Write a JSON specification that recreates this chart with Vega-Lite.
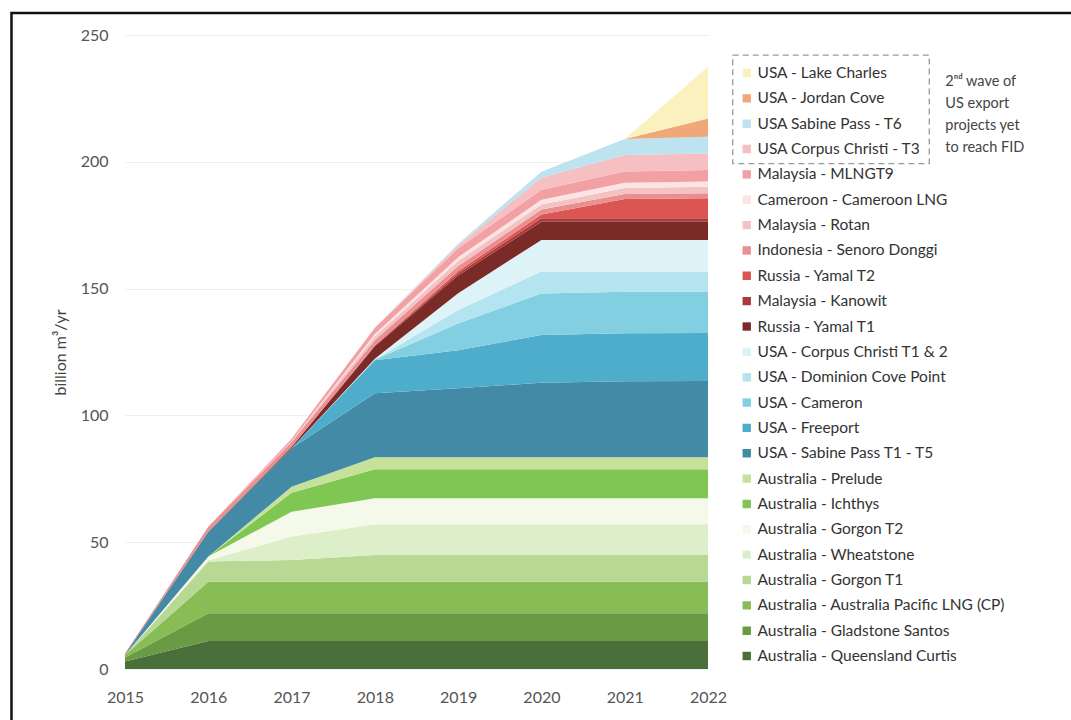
{
  "$schema": "https://vega.github.io/schema/vega-lite/v6.json",
  "width": 583,
  "height": 634,
  "autosize": {"type": "none"},
  "padding": {"left": 125, "top": 35, "right": 363, "bottom": 51},
  "background": "white",
  "config": {"view": {"stroke": null}, "font": "Lato"},
  "datasets": {
    "capacity": [
      {"year": 2015, "Australia - Queensland Curtis": 3, "Australia - Gladstone Santos": 1.5, "Australia - Australia Pacific LNG (CP)": 1, "Australia - Gorgon T1": 0, "Australia - Wheatstone": 0, "Australia - Gorgon T2": 0, "Australia - Ichthys": 0, "Australia - Prelude": 0, "USA - Sabine Pass T1 - T5": 0.3, "USA - Freeport": 0, "USA - Cameron": 0, "USA - Dominion Cove Point": 0, "USA - Corpus Christi T1 & 2": 0, "Russia - Yamal T1": 0, "Malaysia - Kanowit": 0, "Russia - Yamal T2": 0, "Indonesia - Senoro Donggi": 0.3, "Malaysia - Rotan": 0, "Cameroon - Cameroon LNG": 0, "Malaysia - MLNGT9": 0, "USA Corpus Christi - T3": 0, "USA Sabine Pass - T6": 0, "USA - Jordan Cove": 0, "USA - Lake Charles": 0},
      {"year": 2016, "Australia - Queensland Curtis": 11, "Australia - Gladstone Santos": 11, "Australia - Australia Pacific LNG (CP)": 12.4, "Australia - Gorgon T1": 8, "Australia - Wheatstone": 0.5, "Australia - Gorgon T2": 1.5, "Australia - Ichthys": 0, "Australia - Prelude": 0, "USA - Sabine Pass T1 - T5": 9.7, "USA - Freeport": 0, "USA - Cameron": 0, "USA - Dominion Cove Point": 0, "USA - Corpus Christi T1 & 2": 0, "Russia - Yamal T1": 0, "Malaysia - Kanowit": 0, "Russia - Yamal T2": 0, "Indonesia - Senoro Donggi": 2, "Malaysia - Rotan": 0, "Cameroon - Cameroon LNG": 0, "Malaysia - MLNGT9": 0, "USA Corpus Christi - T3": 0, "USA Sabine Pass - T6": 0, "USA - Jordan Cove": 0, "USA - Lake Charles": 0},
      {"year": 2017, "Australia - Queensland Curtis": 11, "Australia - Gladstone Santos": 11, "Australia - Australia Pacific LNG (CP)": 12.4, "Australia - Gorgon T1": 8.6, "Australia - Wheatstone": 9.2, "Australia - Gorgon T2": 9.8, "Australia - Ichthys": 7.5, "Australia - Prelude": 2.4, "USA - Sabine Pass T1 - T5": 15.1, "USA - Freeport": 0, "USA - Cameron": 0, "USA - Dominion Cove Point": 0, "USA - Corpus Christi T1 & 2": 0, "Russia - Yamal T1": 0.5, "Malaysia - Kanowit": 0, "Russia - Yamal T2": 0, "Indonesia - Senoro Donggi": 2, "Malaysia - Rotan": 0.5, "Cameroon - Cameroon LNG": 0, "Malaysia - MLNGT9": 0.8, "USA Corpus Christi - T3": 0, "USA Sabine Pass - T6": 0, "USA - Jordan Cove": 0, "USA - Lake Charles": 0},
      {"year": 2018, "Australia - Queensland Curtis": 11, "Australia - Gladstone Santos": 11, "Australia - Australia Pacific LNG (CP)": 12.4, "Australia - Gorgon T1": 10.6, "Australia - Wheatstone": 12.1, "Australia - Gorgon T2": 10.2, "Australia - Ichthys": 11.5, "Australia - Prelude": 4.7, "USA - Sabine Pass T1 - T5": 25.2, "USA - Freeport": 13, "USA - Cameron": 0.3, "USA - Dominion Cove Point": 0, "USA - Corpus Christi T1 & 2": 0.3, "Russia - Yamal T1": 5, "Malaysia - Kanowit": 0.3, "Russia - Yamal T2": 0, "Indonesia - Senoro Donggi": 2, "Malaysia - Rotan": 1.5, "Cameroon - Cameroon LNG": 1, "Malaysia - MLNGT9": 2.5, "USA Corpus Christi - T3": 0, "USA Sabine Pass - T6": 0, "USA - Jordan Cove": 0, "USA - Lake Charles": 0},
      {"year": 2019, "Australia - Queensland Curtis": 11, "Australia - Gladstone Santos": 11, "Australia - Australia Pacific LNG (CP)": 12.4, "Australia - Gorgon T1": 10.6, "Australia - Wheatstone": 12.1, "Australia - Gorgon T2": 10.2, "Australia - Ichthys": 11.5, "Australia - Prelude": 4.7, "USA - Sabine Pass T1 - T5": 27.2, "USA - Freeport": 15, "USA - Cameron": 10.5, "USA - Dominion Cove Point": 5.4, "USA - Corpus Christi T1 & 2": 6.6, "Russia - Yamal T1": 7, "Malaysia - Kanowit": 0.9, "Russia - Yamal T2": 0.8, "Indonesia - Senoro Donggi": 2, "Malaysia - Rotan": 2, "Cameroon - Cameroon LNG": 1.5, "Malaysia - MLNGT9": 3.5, "USA Corpus Christi - T3": 1.2, "USA Sabine Pass - T6": 0.6, "USA - Jordan Cove": 0, "USA - Lake Charles": 0},
      {"year": 2020, "Australia - Queensland Curtis": 11, "Australia - Gladstone Santos": 11, "Australia - Australia Pacific LNG (CP)": 12.4, "Australia - Gorgon T1": 10.6, "Australia - Wheatstone": 12.1, "Australia - Gorgon T2": 10.2, "Australia - Ichthys": 11.5, "Australia - Prelude": 4.7, "USA - Sabine Pass T1 - T5": 29.4, "USA - Freeport": 18.8, "USA - Cameron": 16.4, "USA - Dominion Cove Point": 8.6, "USA - Corpus Christi T1 & 2": 12.5, "Russia - Yamal T1": 7.2, "Malaysia - Kanowit": 1.3, "Russia - Yamal T2": 1.5, "Indonesia - Senoro Donggi": 2, "Malaysia - Rotan": 2, "Cameroon - Cameroon LNG": 1.8, "Malaysia - MLNGT9": 4, "USA Corpus Christi - T3": 4.8, "USA Sabine Pass - T6": 2.3, "USA - Jordan Cove": 0, "USA - Lake Charles": 0},
      {"year": 2021, "Australia - Queensland Curtis": 11, "Australia - Gladstone Santos": 11, "Australia - Australia Pacific LNG (CP)": 12.4, "Australia - Gorgon T1": 10.6, "Australia - Wheatstone": 12.1, "Australia - Gorgon T2": 10.2, "Australia - Ichthys": 11.5, "Australia - Prelude": 4.7, "USA - Sabine Pass T1 - T5": 30, "USA - Freeport": 18.9, "USA - Cameron": 16.4, "USA - Dominion Cove Point": 7.9, "USA - Corpus Christi T1 & 2": 12.5, "Russia - Yamal T1": 7.2, "Malaysia - Kanowit": 1.3, "Russia - Yamal T2": 7.6, "Indonesia - Senoro Donggi": 2, "Malaysia - Rotan": 2.4, "Cameroon - Cameroon LNG": 2, "Malaysia - MLNGT9": 4.5, "USA Corpus Christi - T3": 6.5, "USA Sabine Pass - T6": 6.3, "USA - Jordan Cove": 0, "USA - Lake Charles": 0},
      {"year": 2022, "Australia - Queensland Curtis": 11, "Australia - Gladstone Santos": 11, "Australia - Australia Pacific LNG (CP)": 12.4, "Australia - Gorgon T1": 10.6, "Australia - Wheatstone": 12.1, "Australia - Gorgon T2": 10.2, "Australia - Ichthys": 11.5, "Australia - Prelude": 4.7, "USA - Sabine Pass T1 - T5": 30.1, "USA - Freeport": 18.9, "USA - Cameron": 16.3, "USA - Dominion Cove Point": 7.9, "USA - Corpus Christi T1 & 2": 12.5, "Russia - Yamal T1": 7.2, "Malaysia - Kanowit": 1.3, "Russia - Yamal T2": 7.9, "Indonesia - Senoro Donggi": 2, "Malaysia - Rotan": 2.6, "Cameroon - Cameroon LNG": 2, "Malaysia - MLNGT9": 4.6, "USA Corpus Christi - T3": 6.5, "USA Sabine Pass - T6": 6.6, "USA - Jordan Cove": 7.2, "USA - Lake Charles": 20.4}
    ],
    "projects": [
      {"project": "Australia - Queensland Curtis", "rank": 1},
      {"project": "Australia - Gladstone Santos", "rank": 2},
      {"project": "Australia - Australia Pacific LNG (CP)", "rank": 3},
      {"project": "Australia - Gorgon T1", "rank": 4},
      {"project": "Australia - Wheatstone", "rank": 5},
      {"project": "Australia - Gorgon T2", "rank": 6},
      {"project": "Australia - Ichthys", "rank": 7},
      {"project": "Australia - Prelude", "rank": 8},
      {"project": "USA - Sabine Pass T1 - T5", "rank": 9},
      {"project": "USA - Freeport", "rank": 10},
      {"project": "USA - Cameron", "rank": 11},
      {"project": "USA - Dominion Cove Point", "rank": 12},
      {"project": "USA - Corpus Christi T1 & 2", "rank": 13},
      {"project": "Russia - Yamal T1", "rank": 14},
      {"project": "Malaysia - Kanowit", "rank": 15},
      {"project": "Russia - Yamal T2", "rank": 16},
      {"project": "Indonesia - Senoro Donggi", "rank": 17},
      {"project": "Malaysia - Rotan", "rank": 18},
      {"project": "Cameroon - Cameroon LNG", "rank": 19},
      {"project": "Malaysia - MLNGT9", "rank": 20},
      {"project": "USA Corpus Christi - T3", "rank": 21},
      {"project": "USA Sabine Pass - T6", "rank": 22},
      {"project": "USA - Jordan Cove", "rank": 23},
      {"project": "USA - Lake Charles", "rank": 24}
    ]
  },
  "layer": [
    {
      "data": {"name": "capacity"},
      "transform": [
        {"fold": ["Australia - Queensland Curtis", "Australia - Gladstone Santos", "Australia - Australia Pacific LNG (CP)", "Australia - Gorgon T1", "Australia - Wheatstone", "Australia - Gorgon T2", "Australia - Ichthys", "Australia - Prelude", "USA - Sabine Pass T1 - T5", "USA - Freeport", "USA - Cameron", "USA - Dominion Cove Point", "USA - Corpus Christi T1 & 2", "Russia - Yamal T1", "Malaysia - Kanowit", "Russia - Yamal T2", "Indonesia - Senoro Donggi", "Malaysia - Rotan", "Cameroon - Cameroon LNG", "Malaysia - MLNGT9", "USA Corpus Christi - T3", "USA Sabine Pass - T6", "USA - Jordan Cove", "USA - Lake Charles"], "as": ["project", "bcm"]},
        {"lookup": "project", "from": {"data": {"name": "projects"}, "key": "project", "fields": ["rank"]}}
      ],
      "mark": {"type": "area", "interpolate": "linear"},
      "encoding": {
        "x": {
          "field": "year", "type": "quantitative",
          "scale": {"domain": [2015, 2022], "nice": false, "zero": false},
          "axis": {"values": [2015, 2016, 2017, 2018, 2019, 2020, 2021, 2022], "format": "d", "title": null, "grid": false, "domain": false, "ticks": false, "labelFontSize": 16, "labelColor": "#555555", "labelPadding": 20, "labelFlush": false}
        },
        "y": {
          "field": "bcm", "type": "quantitative", "stack": "zero",
          "scale": {"domain": [0, 250], "nice": false},
          "axis": {"values": [0, 50, 100, 150, 200, 250], "title": "billion m³/yr", "titleFontSize": 16, "titleFontWeight": "normal", "titleColor": "#444444", "titlePadding": 12, "grid": true, "gridColor": "#efefef", "domain": false, "ticks": false, "labelFontSize": 16, "labelColor": "#555555", "labelPadding": 17}
        },
        "color": {
          "field": "project", "type": "nominal",
          "scale": {
            "domain": ["USA - Lake Charles", "USA - Jordan Cove", "USA Sabine Pass - T6", "USA Corpus Christi - T3", "Malaysia - MLNGT9", "Cameroon - Cameroon LNG", "Malaysia - Rotan", "Indonesia - Senoro Donggi", "Russia - Yamal T2", "Malaysia - Kanowit", "Russia - Yamal T1", "USA - Corpus Christi T1 & 2", "USA - Dominion Cove Point", "USA - Cameron", "USA - Freeport", "USA - Sabine Pass T1 - T5", "Australia - Prelude", "Australia - Ichthys", "Australia - Gorgon T2", "Australia - Wheatstone", "Australia - Gorgon T1", "Australia - Australia Pacific LNG (CP)", "Australia - Gladstone Santos", "Australia - Queensland Curtis"],
            "range": ["#fbf1bf", "#f0a878", "#bde2f0", "#f6c0c2", "#f2a0a4", "#fbe4e4", "#f5c2c4", "#ea8e90", "#db5553", "#a93c3a", "#7a2b28", "#ddf3f8", "#b3e4ef", "#82cfe1", "#4fadcc", "#428aa5", "#c6e29a", "#80c652", "#f4f9ea", "#dcefc9", "#b7d993", "#88bd56", "#699a44", "#4b6f3a"]
          },
          "legend": {"orient": "none", "legendX": 614, "legendY": 25.5, "title": null, "padding": 0, "symbolType": "square", "symbolSize": 70, "symbolStrokeWidth": 0, "labelFontSize": 15.5, "labelColor": "#333333", "labelOffset": 3, "labelLimit": 400, "clipHeight": 25, "rowPadding": 0.35}
        },
        "order": {"field": "rank", "type": "quantitative"}
      }
    },
    {
      "data": {"values": [{}]},
      "mark": {"type": "rect", "fill": "transparent", "stroke": "#9a9a9a", "strokeDash": [6, 4], "strokeWidth": 1.3},
      "encoding": {"x": {"datum": 2022.297}, "x2": {"datum": 2024.657}, "y": {"datum": 242.1}, "y2": {"datum": 199.3}}
    },
    {
      "data": {"values": [{"note": "2ⁿᵈ wave of\nUS export\nprojects yet\nto reach FID"}]},
      "mark": {"type": "text", "align": "left", "baseline": "top", "lineBreak": "\n", "lineHeight": 22, "fontSize": 14.5, "color": "#444444"},
      "encoding": {"x": {"datum": 2024.85}, "y": {"datum": 234.2}, "text": {"field": "note"}}
    },
    {
      "data": {"values": [{}]},
      "mark": {"type": "rect", "fill": "transparent", "stroke": "#111111", "strokeWidth": 2.5},
      "encoding": {"x": {"datum": 2013.637}, "x2": {"datum": 2030}, "y": {"datum": 258.68}, "y2": {"datum": -100}}
    }
  ]
}
